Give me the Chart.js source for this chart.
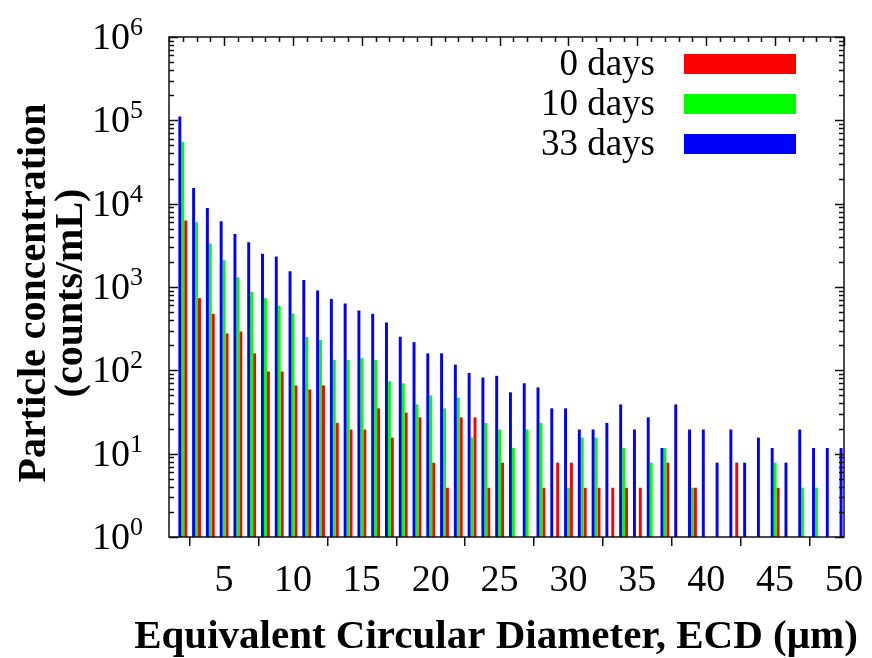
<!DOCTYPE html>
<html>
<head>
<meta charset="utf-8">
<script src="https://cdn.jsdelivr.net/npm/chart.js@4.4.1/dist/chart.umd.min.js"></script>
<style>
  body { margin: 0; background: #fff; }
  #wrap { width: 872px; height: 658px; }
</style>
</head>
<body>
<div id="wrap"><canvas id="ecdChart" width="872" height="658"></canvas></div>
<script>
// ECD bins (um) and concentrations (counts/mL)
const ecd = [2, 3, 4, 5, 6, 7, 8, 9, 10, 11, 12, 13, 14, 15, 16, 17, 18, 19, 20,
  21, 22, 23, 24, 25, 26, 27, 28, 29, 30, 31, 32, 33, 34, 35, 36, 37, 38, 39, 40,
  41, 42, 43, 44, 45, 46, 47, 48, 49, 50]

const day0 = [6300, 735, 477, 277, 293, 160, 97, 97, 66, 59, 66, 23.4, 19.5, 19.5, 35, 15.6, 31.2, 27.3, 7.8,
  3.9, 27.3, 27.3, 3.9, 7.8, null, null, 3.9, 7.8, 7.8, 3.9, 3.9, 3.9, 3.9, 3.9, null, 7.8, null, 3.9, null,
  null, 7.8, null, null, 3.9, null, null, null, null, null]

const day10 = [55300, 6000, 3320, 2100, 1310, 875, 735, 595, 482, 251, 231, 133, 133, 140, 133, 74, 70, 39, 50,
  35, 47, 15.6, 23.4, 19.5, 11.7, 19.5, 23.4, null, 3.9, 15.6, 15.6, null, 11.7, null, 7.8, 11.7, null, 3.9, null,
  null, null, null, null, 7.8, null, 3.9, 3.9, null, null]

const day33 = [111000, 15400, 8870, 6140, 4330, 3440, 2500, 2320, 1550, 1210, 908, 721, 634, 523, 477, 375, 253, 218, 160,
  160, 117, 93, 82, 86, 54.5, 70, 62.5, 35, 35, 19.5, 19.5, 23.4, 39, 19.5, 27.3, 11.7, 39, 19.5, 19.5,
  7.8, 19.5, 7.8, 15.6, 11.7, 7.8, 19.5, 11.7, 11.7, 11.7]

const seriesLabels = ['0 days', '10 days', '33 days']
const seriesColors = ['#ff0000', '#00ff00', '#0000ff']
const xTicks = [5, 10, 15, 20, 25, 30, 35, 40, 45, 50]
const yExponents = [0, 1, 2, 3, 4, 5, 6]
const xTitle = 'Equivalent Circular Diameter, ECD (\u03bcm)'
const yTitle = ['Particle concentration', '(counts/mL)']

const serif = 'Liberation Serif'

// gnuplot-like frame: box, inward ticks, 10^n labels, titles and the key
const framePlugin = {
  id: 'frame',
  afterDraw(chart) {
    const ctx = chart.ctx
    const area = chart.chartArea
    const xs = chart.scales.x
    const ys = chart.scales.y
    ctx.save()
    ctx.strokeStyle = '#111'
    ctx.lineWidth = 1.5

    // y ticks on both sides
    yExponents.forEach(e => {
      for (let k = 1; k <= 9; k++) {
        const v = k * Math.pow(10, e)
        if (v > ys.max) break
        const py = Math.round(ys.getPixelForValue(v)) + 0.5
        const len = k === 1 ? 9 : 5
        ctx.beginPath()
        ctx.moveTo(area.left, py); ctx.lineTo(area.left + len, py)
        ctx.moveTo(area.right, py); ctx.lineTo(area.right - len, py)
        ctx.stroke()
      }
    })

    // x minor ticks along the top
    for (let v = xs.min; v <= xs.max; v++) {
      const px = Math.round(xs.getPixelForValue(v)) + 0.5
      const len = v % 5 === 0 ? 9 : 5
      ctx.beginPath()
      ctx.moveTo(px, area.top); ctx.lineTo(px, area.top + len)
      ctx.stroke()
    }

    ctx.strokeRect(area.left, area.top, area.right - area.left, area.bottom - area.top)

    // y tick labels 10^n
    ctx.fillStyle = '#000'
    yExponents.forEach(e => {
      const py = ys.getPixelForValue(Math.pow(10, e))
      ctx.font = '38px "' + serif + '"'
      ctx.textAlign = 'right'
      ctx.textBaseline = 'alphabetic'
      ctx.fillText('10', 130, py + 12)
      ctx.font = '26px "' + serif + '"'
      ctx.textAlign = 'left'
      ctx.fillText(String(e), 130, py - 2)
    })

    // x axis title
    ctx.font = 'bold 41px "' + serif + '"'
    ctx.textAlign = 'center'
    ctx.textBaseline = 'alphabetic'
    ctx.fillText(xTitle, 496, 648)

    // y axis title, two rotated lines
    ctx.save()
    ctx.translate(35, 293)
    ctx.rotate(-Math.PI / 2)
    ctx.font = 'bold 40px "' + serif + '"'
    ctx.textAlign = 'center'
    ctx.textBaseline = 'middle'
    yTitle.forEach((line, i) => ctx.fillText(line, 0, i * 37))
    ctx.restore()

    // key
    ctx.font = '37px "' + serif + '"'
    ctx.textAlign = 'right'
    ctx.textBaseline = 'middle'
    seriesLabels.forEach((lab, i) => {
      const cy = 64 + i * 40
      ctx.fillStyle = '#000'
      ctx.fillText(lab, 655, cy + 1)
      ctx.fillStyle = seriesColors[i]
      ctx.fillRect(684, cy - 10, 112, 20)
    })
    ctx.restore()
  }
}

const ctx = document.getElementById('ecdChart')

new Chart(ctx, {
  type: 'bar',
  data: {
    labels: ecd,
    datasets: [
      { label: seriesLabels[2], data: day33, backgroundColor: seriesColors[2] },
      { label: seriesLabels[1], data: day10, backgroundColor: seriesColors[1] },
      { label: seriesLabels[0], data: day0, backgroundColor: seriesColors[0] }
    ]
  },
  options: {
    responsive: false,
    animation: false,
    devicePixelRatio: 1,
    categoryPercentage: 0.64,
    barPercentage: 1.0,
    layout: { padding: { left: 0, right: 28, top: 37, bottom: 0 } },
    plugins: {
      legend: { display: false },
      tooltip: { enabled: false }
    },
    scales: {
      x: {
        type: 'linear',
        min: 1,
        max: 50,
        offset: false,
        afterBuildTicks: axis => { axis.ticks = xTicks.map(v => ({ value: v })) },
        afterFit: axis => {
          axis.height = 121
          axis.paddingRight = 0
        },
        grid: { drawOnChartArea: false, tickLength: 9, color: '#111', lineWidth: 1.5 },
        border: { display: false },
        ticks: { font: { family: serif, size: 38 }, color: '#000', padding: 12, maxRotation: 0, autoSkip: false }
      },
      y: {
        type: 'logarithmic',
        min: 1,
        max: 1e6,
        afterFit: axis => { axis.width = 169 },
        grid: { display: false },
        border: { display: false },
        ticks: { display: false }
      }
    }
  },
  plugins: [framePlugin]
})
</script>
</body>
</html>
